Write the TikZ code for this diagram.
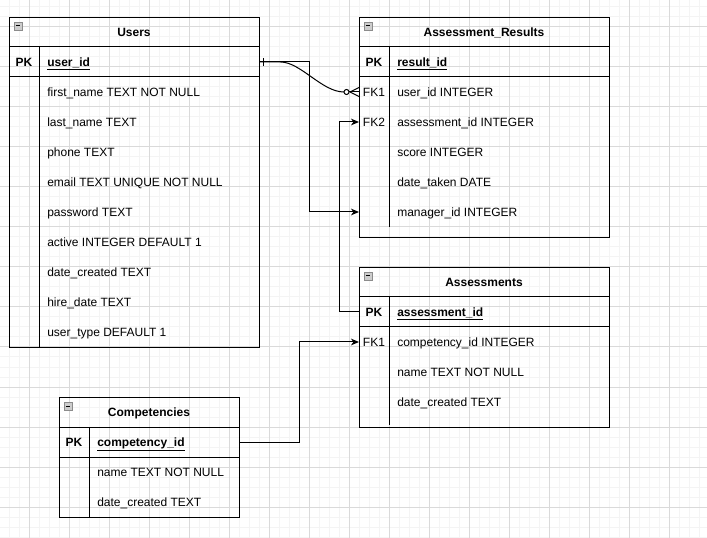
\documentclass[tikz,border=0pt]{standalone}
\usepackage{fontspec}
\setmainfont{Liberation Sans}
\usetikzlibrary{arrows.meta,calc}
\definecolor{gridmin}{RGB}{244,244,244}
\definecolor{gridmaj}{RGB}{218,218,218}
\definecolor{foldfill}{RGB}{205,205,205}
\definecolor{folddraw}{RGB}{140,140,140}

\tikzset{
  tblbox/.style={draw=black, line width=0.75pt, inner sep=0pt, fill=none},
  tblline/.style={draw=black, line width=0.75pt},
  rowbox/.style={inner sep=0pt, minimum height=22.5pt, draw=none},
  fld/.style={anchor=west, inner sep=0pt, text height=6.45pt, text depth=0pt, font=\fontsize{9}{11}\selectfont},
  keyc/.style={inner sep=0pt, text height=6.45pt, text depth=0pt, font=\fontsize{9}{11}\selectfont},
  ttl/.style={inner sep=0pt, text height=6.45pt, text depth=0pt, font=\bfseries\fontsize{9}{11}\selectfont},
  conn/.style={line width=0.75pt, draw=black},
  arr/.style={conn, -{Stealth[length=6pt,width=5pt,inset=1.8pt]}},
  gridminor/.style={draw=gridmin, line width=0.75pt},
  gridmajor/.style={draw=gridmaj, line width=0.75pt},
  foldicon/.style={draw=folddraw, fill=foldfill, line width=0.5pt},
}

% #1 name, #2 x, #3 y, #4 width, #5 height, #6 title, #7 divider end y
\newcommand\ERtable[7]{%
  \node[tblbox, minimum width={#4*0.75pt}, minimum height={#5*0.75pt}, anchor=north west] (#1) at (#2,#3) {};
  \node[ttl] (#1-title) at (#2+#4/2,#3+15) {#6};
  \draw[tblline] (#2,#3+30) -- ++(#4,0);
  \draw[tblline] (#2,#3+60) -- ++(#4,0);
  \draw[tblline] (#2+30,#3+30) -- (#2+30,#7);
  \draw[foldicon] (#2+5,#3+5) rectangle ++(8,8);
  \draw[line width=0.75pt, black] (#2+6.8,#3+9) -- ++(4.4,0);
}
% #1 name, #2 table x, #3 width, #4 y, #5 key, #6 text
\newcommand\ERrow[6]{%
  \node[rowbox, minimum width={#3*0.75pt}, anchor=west] (#1) at (#2,#4) {};
  \node[keyc] (#1-k) at (#2+15,#4) {#5};
  \node[fld] (#1-t) at (#2+38,#4) {#6};
}

\begin{document}
\begin{tikzpicture}[x=0.75pt,y=-0.75pt]
\useasboundingbox (0,0) rectangle (707,538);
\fill[white] (0,0) rectangle (707,538);
% grid
\foreach \gx in {9,19,...,699} \draw[gridminor] (\gx,0) -- (\gx,538);
\foreach \gy in {7,17,...,537} \draw[gridminor] (0,\gy) -- (707,\gy);
\foreach \gx in {29,69,...,669} \draw[gridmajor] (\gx,0) -- (\gx,538);
\foreach \gy in {27,67,...,507} \draw[gridmajor] (0,\gy) -- (707,\gy);

% Users
\ERtable{users}{9}{17}{250}{330}{Users}{347}
\ERrow{u0}{9}{250}{62}{\textbf{PK}}{\textbf{\underline{user\_id}}}
\ERrow{u1}{9}{250}{92}{}{first\_name TEXT NOT NULL}
\ERrow{u2}{9}{250}{122}{}{last\_name TEXT}
\ERrow{u3}{9}{250}{152}{}{phone TEXT}
\ERrow{u4}{9}{250}{182}{}{email TEXT UNIQUE NOT NULL}
\ERrow{u5}{9}{250}{212}{}{password TEXT}
\ERrow{u6}{9}{250}{242}{}{active INTEGER DEFAULT 1}
\ERrow{u7}{9}{250}{272}{}{date\_created TEXT}
\ERrow{u8}{9}{250}{302}{}{hire\_date TEXT}
\ERrow{u9}{9}{250}{332}{}{user\_type DEFAULT 1}

% Assessment_Results
\ERtable{ares}{359}{17}{250}{220}{Assessment\_Results}{227}
\ERrow{ar0}{359}{250}{62}{\textbf{PK}}{\textbf{\underline{result\_id}}}
\ERrow{ar1}{359}{250}{92}{FK1}{user\_id INTEGER}
\ERrow{ar2}{359}{250}{122}{FK2}{assessment\_id INTEGER}
\ERrow{ar3}{359}{250}{152}{}{score INTEGER}
\ERrow{ar4}{359}{250}{182}{}{date\_taken DATE}
\ERrow{ar5}{359}{250}{212}{}{manager\_id INTEGER}

% Assessments
\ERtable{asmt}{359}{267}{250}{160}{Assessments}{425}
\ERrow{as0}{359}{250}{312}{\textbf{PK}}{\textbf{\underline{assessment\_id}}}
\ERrow{as1}{359}{250}{342}{FK1}{competency\_id INTEGER}
\ERrow{as2}{359}{250}{372}{}{name TEXT NOT NULL}
\ERrow{as3}{359}{250}{402}{}{date\_created TEXT}

% Competencies
\ERtable{comp}{59}{397}{180}{120}{Competencies}{517}
\ERrow{c0}{59}{180}{442}{\textbf{PK}}{\textbf{\underline{competency\_id}}}
\ERrow{c1}{59}{180}{472}{}{name TEXT NOT NULL}
\ERrow{c2}{59}{180}{502}{}{date\_created TEXT}

% Users.user_id -> Assessment_Results.user_id (one to zero-or-many)
\draw[conn] (u0.east) -- ($(u0.east)+(21,0)$)
  .. controls ($(u0.east)+(41,0)$) and ($(ar1.west)+(-37,0)$) .. ($(ar1.west)+(-15,0)$);
\draw[conn] ($(u0.east)+(4,-4)$) -- ($(u0.east)+(4,4)$);
\draw[conn, fill=white] ($(ar1.west)+(-12.5,0)$) circle[radius=1.9pt];
\draw[conn] ($(ar1.west)+(-10,0)$) -- (ar1.west);
\draw[conn] ($(ar1.west)+(-9,0)$) -- ($(ar1.west)+(0,-4.5)$);
\draw[conn] ($(ar1.west)+(-9,0)$) -- ($(ar1.west)+(0,4.5)$);

% Users.user_id -> Assessment_Results.manager_id
\draw[arr] (u0.east) -| ($(ar5.west)+(-50,0)$) -- (ar5.west);

% Assessments.assessment_id -> Assessment_Results.assessment_id
\draw[arr] (as0.west) -- ($(as0.west)+(-20,0)$) |- (ar2.west);

% Competencies.competency_id -> Assessments.competency_id
\draw[arr] (c0.east) -| ($(as1.west)+(-60,0)$) -- (as1.west);
\end{tikzpicture}
\end{document}
